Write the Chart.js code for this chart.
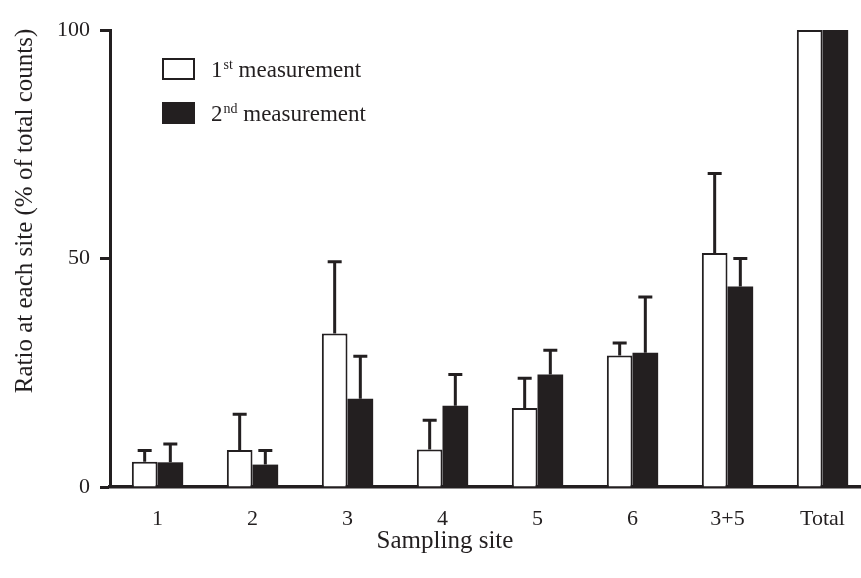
<!DOCTYPE html>
<html>
<head>
<meta charset="utf-8">
<script src="https://cdn.jsdelivr.net/npm/chart.js@4/dist/chart.umd.min.js"></script>
<style>
    html, body { margin: 0; padding: 0; background: #fff; overflow: hidden; }
    #wrap { position: relative; width: 870px; height: 578px; }
</style>
</head>
<body>
<div id="wrap"><canvas id="canvas"></canvas></div>
<script>
// Сайты отбора проб.
const sites = ['1', '2', '3', '4', '5', '6', '3+5', 'Total']

// Первое измерение: среднее и верхняя ошибка.
const firstMean = [5.5, 8.1, 33.6, 8.2, 17.3, 28.8, 51.2, 100]
const firstErr = [2.5, 7.8, 15.7, 6.4, 6.5, 2.7, 17.4, null]

// Второе измерение: среднее и верхняя ошибка.
const secondMean = [5.4, 4.9, 19.3, 17.8, 24.6, 29.4, 43.9, 100]
const secondErr = [4.0, 3.1, 9.3, 6.8, 5.3, 12.2, 6.1, null]

const yTicks = [0, 50, 100]

const ink = '#231f20'
const serif = 'Liberation Serif, Times New Roman, serif'

// Рисует усы ошибок над столбиками.
const errorBars = {
    id: 'errorBars',
    afterDatasetsDraw(chart) {
        const ctx = chart.ctx
        const y = chart.scales.y
        chart.data.datasets.forEach((ds, i) => {
            const meta = chart.getDatasetMeta(i)
            meta.data.forEach((bar, j) => {
                const err = ds.errors[j]
                if (err == null) return
                const top = y.getPixelForValue(ds.data[j] + err)
                ctx.save()
                ctx.strokeStyle = ink
                ctx.lineWidth = 3
                ctx.beginPath()
                ctx.moveTo(bar.x, bar.y)
                ctx.lineTo(bar.x, top)
                ctx.moveTo(bar.x - 7, top)
                ctx.lineTo(bar.x + 7, top)
                ctx.stroke()
                ctx.restore()
            })
        })
    },
}

// Легенда с надстрочными индексами.
const legendBox = {
    id: 'legendBox',
    afterDraw(chart) {
        const ctx = chart.ctx
        const area = chart.chartArea
        const x = area.left + 52
        chart.data.datasets.forEach((ds, i) => {
            const y = area.top + 28 + i * 44
            ctx.save()
            ctx.fillStyle = ds.backgroundColor
            ctx.fillRect(x, y, 33, 22)
            ctx.strokeStyle = ink
            ctx.lineWidth = 2
            ctx.strokeRect(x + 1, y + 1, 31, 20)
            ctx.fillStyle = ink
            ctx.textBaseline = 'alphabetic'
            const base = y + 19
            let tx = x + 49
            ctx.font = '23px ' + serif
            ctx.fillText(ds.label[0], tx, base)
            tx += ctx.measureText(ds.label[0]).width
            ctx.font = '14px ' + serif
            ctx.fillText(ds.label[1], tx + 1, base - 8)
            tx += ctx.measureText(ds.label[1]).width + 1
            ctx.font = '23px ' + serif
            ctx.fillText(ds.label[2], tx, base)
            ctx.restore()
        })
    },
}

// Подписи осей.
const axisTitles = {
    id: 'axisTitles',
    afterDraw(chart) {
        const ctx = chart.ctx
        const area = chart.chartArea
        ctx.save()
        ctx.fillStyle = ink
        ctx.font = '25px ' + serif
        ctx.textAlign = 'center'
        ctx.textBaseline = 'middle'
        ctx.fillText('Sampling site', area.left + 335, 541)
        ctx.translate(25, area.top + 181)
        ctx.rotate(-Math.PI / 2)
        ctx.fillText('Ratio at each site (% of total counts)', 0, 0)
        ctx.restore()
    },
}

window.addEventListener('DOMContentLoaded', () => {
    const canvas = document.querySelector('#canvas')

    new Chart(canvas, {
        type: 'bar',
        data: {
            labels: sites,
            datasets: [
                {
                    label: ['1', 'st', ' measurement'],
                    data: firstMean,
                    errors: firstErr,
                    backgroundColor: '#ffffff',
                    borderColor: ink,
                    borderWidth: 2,
                },
                {
                    label: ['2', 'nd', ' measurement'],
                    data: secondMean,
                    errors: secondErr,
                    backgroundColor: ink,
                    borderColor: ink,
                    borderWidth: 0,
                },
            ],
        },
        options: {
            animation: false,
            responsive: true,
            maintainAspectRatio: false,
            layout: { padding: { top: 30, right: 0, bottom: 0, left: 0 } },
            datasets: {
                bar: { categoryPercentage: 0.54, barPercentage: 1 },
            },
            plugins: {
                legend: { display: false },
                tooltip: { enabled: false },
            },
            scales: {
                x: {
                    grid: { display: false, drawTicks: false },
                    border: { display: true, color: ink, width: 3.5 },
                    ticks: { color: ink, padding: 19, font: { family: serif, size: 22 } },
                    afterFit(scale) { scale.height = 91 },
                },
                y: {
                    min: 0,
                    max: 100,
                    afterBuildTicks(scale) { scale.ticks = yTicks.map(v => ({ value: v })) },
                    grid: { drawOnChartArea: false, drawTicks: true, tickLength: 10, tickWidth: 3, tickColor: ink },
                    border: { display: true, color: ink, width: 3 },
                    ticks: { color: ink, padding: 10, font: { family: serif, size: 22 } },
                    afterFit(scale) { scale.width = 110 },
                },
            },
        },
        plugins: [errorBars, legendBox, axisTitles],
    })
})
</script>
</body>
</html>
